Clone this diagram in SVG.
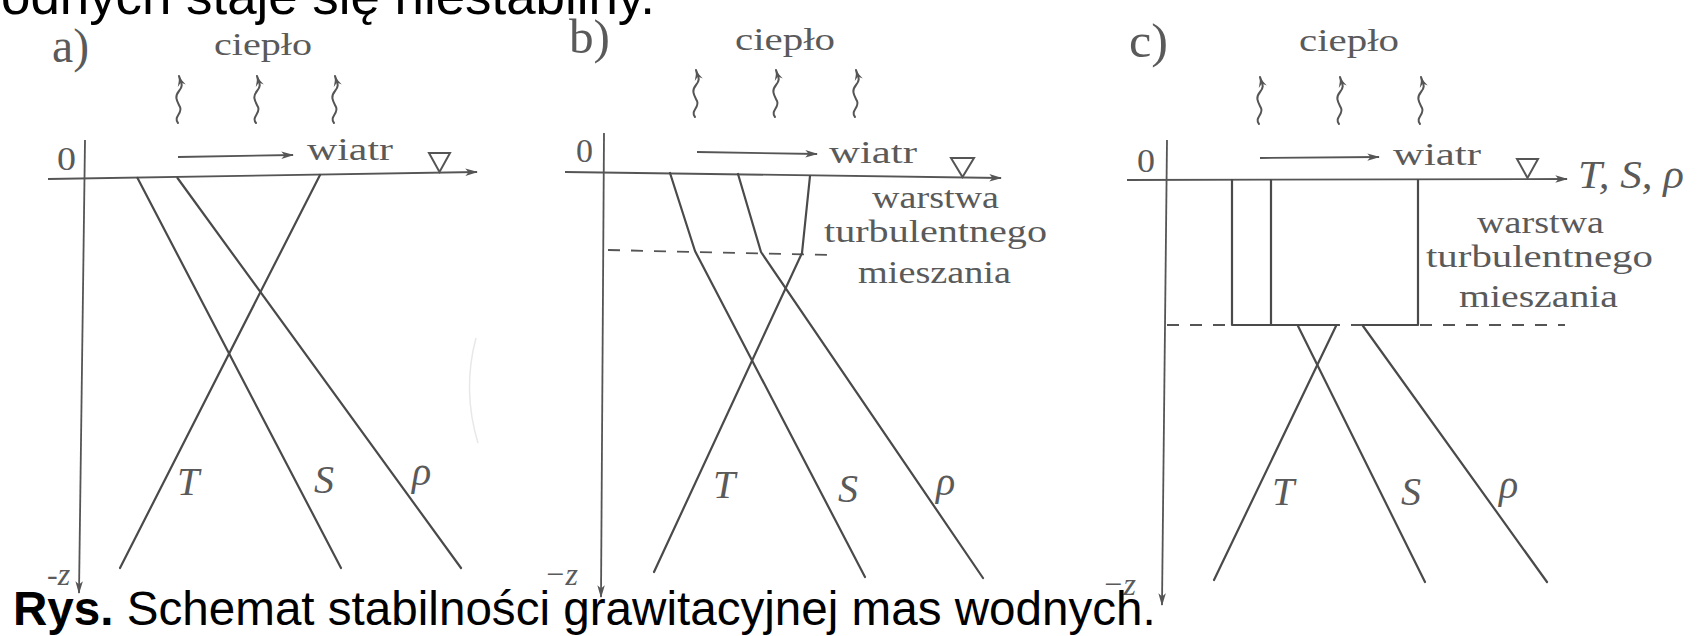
<svg xmlns="http://www.w3.org/2000/svg" width="1703" height="636" viewBox="0 0 1703 636">
<defs>
<style>
.ln{stroke:#4a4a4a;stroke-width:2.2;fill:none;stroke-linecap:round;stroke-linejoin:round}
.ax{stroke:#555;stroke-width:1.8;fill:none}
.hw{stroke:#555;stroke-width:2;fill:none;stroke-linecap:round}
.dash{stroke:#555;stroke-width:1.8;fill:none;stroke-dasharray:12 11}
.tri{stroke:#555;stroke-width:2;fill:none}
.lab{font-family:"Liberation Serif","DejaVu Serif",serif;fill:#5a5a5a}
.it{font-style:italic}
.cap{font-family:"Liberation Sans",Arial,sans-serif;fill:#000}
</style>
<marker id="ah" viewBox="0 0 12 8" refX="11" refY="4" markerWidth="13" markerHeight="8.5" markerUnits="userSpaceOnUse" orient="auto">
<path d="M0,0.5 L12,4 L0,7.5 L3,4 z" fill="#555"/>
</marker>
<marker id="hh" viewBox="0 0 10 8" refX="9" refY="4" markerWidth="13" markerHeight="9" markerUnits="userSpaceOnUse" orient="auto">
<path d="M0,0.3 Q5,3.2 10,4 Q5,4.8 0,7.7 L3,4 z" fill="#555"/>
</marker>
<path id="heat" class="hw" d="M-1,50 C-6,44 4,40 1,34 S-5,24 0,18 S2,10 0,3" marker-end="url(#hh)"/>
</defs>
<rect width="1703" height="636" fill="#fff"/>

<g id="panel-a">
<text class="lab" x="52" y="62" font-size="48" textLength="37" lengthAdjust="spacingAndGlyphs">a)</text>
<text class="lab" x="214" y="55" font-size="32" textLength="98" lengthAdjust="spacingAndGlyphs">ciepło</text>
<use href="#heat" x="179" y="73"/>
<use href="#heat" x="257" y="73"/>
<use href="#heat" x="335" y="73"/>
<text class="lab" x="57" y="170" font-size="34" textLength="19" lengthAdjust="spacingAndGlyphs">0</text>
<line class="ax" x1="178" y1="157" x2="293" y2="155" marker-end="url(#ah)"/>
<text class="lab" x="307" y="160" font-size="31" textLength="86" lengthAdjust="spacingAndGlyphs">wiatr</text>
<line class="ax" x1="48" y1="179" x2="477" y2="172" marker-end="url(#ah)"/>
<line class="ax" x1="85" y1="140" x2="79" y2="593" marker-end="url(#ah)"/>
<polygon class="tri" points="429,153 450,153 439.5,172"/>
<line class="ln" x1="137.5" y1="178" x2="341" y2="568"/>
<line class="ln" x1="177.5" y1="178" x2="461" y2="568"/>
<line class="ln" x1="320" y1="175" x2="120" y2="568"/>
<text class="lab it" x="177" y="495" font-size="40">T</text>
<text class="lab it" x="314" y="493" font-size="40">S</text>
<text class="lab it" x="412" y="485" font-size="40">ρ</text>
<text class="lab it" x="47" y="585" font-size="32">-z</text>
<path d="M476,338 Q462,390 478,443" stroke="#e8e8e8" stroke-width="1.5" fill="none"/>
</g>

<g id="panel-b">
<text class="lab" x="569" y="53" font-size="48" textLength="41" lengthAdjust="spacingAndGlyphs">b)</text>
<text class="lab" x="735" y="50" font-size="32" textLength="100" lengthAdjust="spacingAndGlyphs">ciepło</text>
<use href="#heat" x="696" y="67"/>
<use href="#heat" x="776" y="67"/>
<use href="#heat" x="856" y="67"/>
<text class="lab" x="576" y="162" font-size="34" textLength="17" lengthAdjust="spacingAndGlyphs">0</text>
<line class="ax" x1="697" y1="152" x2="817" y2="154" marker-end="url(#ah)"/>
<text class="lab" x="829" y="163" font-size="31" textLength="88" lengthAdjust="spacingAndGlyphs">wiatr</text>
<line class="ax" x1="565" y1="172" x2="1001" y2="178" marker-end="url(#ah)"/>
<line class="ax" x1="604" y1="133" x2="601" y2="597" marker-end="url(#ah)"/>
<polygon class="tri" points="951,158 974,158 962.5,177"/>
<text class="lab" x="872" y="208" font-size="31" textLength="127" lengthAdjust="spacingAndGlyphs">warstwa</text>
<text class="lab" x="824" y="242" font-size="31" textLength="223" lengthAdjust="spacingAndGlyphs">turbulentnego</text>
<text class="lab" x="858" y="283" font-size="31" textLength="153" lengthAdjust="spacingAndGlyphs">mieszania</text>
<line class="dash" x1="608" y1="250" x2="829" y2="255"/>
<polyline class="ln" points="670,173 695,251 865,577"/>
<polyline class="ln" points="738,174 761,252 983,578"/>
<polyline class="ln" points="810,176 802,253 654,572"/>
<text class="lab it" x="713" y="498" font-size="40">T</text>
<text class="lab it" x="838" y="502" font-size="40">S</text>
<text class="lab it" x="936" y="495" font-size="40">ρ</text>
<text class="lab it" x="544" y="585" font-size="32">−z</text>
</g>

<g id="panel-c">
<text class="lab" x="1129" y="57" font-size="48" textLength="39" lengthAdjust="spacingAndGlyphs">c)</text>
<text class="lab" x="1299" y="51" font-size="32" textLength="100" lengthAdjust="spacingAndGlyphs">ciepło</text>
<use href="#heat" x="1260" y="74"/>
<use href="#heat" x="1340" y="74"/>
<use href="#heat" x="1421" y="74"/>
<text class="lab" x="1137" y="172" font-size="34" textLength="18" lengthAdjust="spacingAndGlyphs">0</text>
<line class="ax" x1="1260" y1="158" x2="1379" y2="157" marker-end="url(#ah)"/>
<text class="lab" x="1393" y="165" font-size="31" textLength="88" lengthAdjust="spacingAndGlyphs">wiatr</text>
<line class="ax" x1="1127" y1="180" x2="1567" y2="179" marker-end="url(#ah)"/>
<line class="ax" x1="1167" y1="140" x2="1162" y2="605" marker-end="url(#ah)"/>
<polygon class="tri" points="1517,159 1538,159 1527.5,178"/>
<text class="lab it" x="1578" y="188" font-size="40" textLength="106" lengthAdjust="spacingAndGlyphs">T, S, ρ</text>
<text class="lab" x="1477" y="233" font-size="31" textLength="127" lengthAdjust="spacingAndGlyphs">warstwa</text>
<text class="lab" x="1426" y="267" font-size="31" textLength="227" lengthAdjust="spacingAndGlyphs">turbulentnego</text>
<text class="lab" x="1459" y="307" font-size="31" textLength="159" lengthAdjust="spacingAndGlyphs">mieszania</text>
<line class="dash" x1="1167" y1="325" x2="1565" y2="325"/>
<polyline class="ln" points="1232,180 1232,325 1338,325"/>
<line class="ln" x1="1271" y1="180" x2="1271" y2="325"/>
<polyline class="ln" points="1363,325 1418,325 1418,180"/>
<line class="ln" x1="1298" y1="326" x2="1425" y2="582"/>
<line class="ln" x1="1336" y1="326" x2="1214" y2="580"/>
<line class="ln" x1="1363" y1="326" x2="1547" y2="582"/>
<text class="lab it" x="1272" y="505" font-size="40">T</text>
<text class="lab it" x="1401" y="505" font-size="40">S</text>
<text class="lab it" x="1499" y="498" font-size="40">ρ</text>
<text class="lab it" x="1102" y="595" font-size="32">−z</text>
</g>

<g id="captions">
<text class="cap" x="1" y="14" font-size="52.5" textLength="654" lengthAdjust="spacingAndGlyphs">odnych staje się niestabilny.</text>
<text class="cap" x="13" y="625" font-size="47.6"><tspan font-weight="bold">Rys.</tspan> Schemat stabilności grawitacyjnej mas wodnych.</text>
</g>
</svg>
